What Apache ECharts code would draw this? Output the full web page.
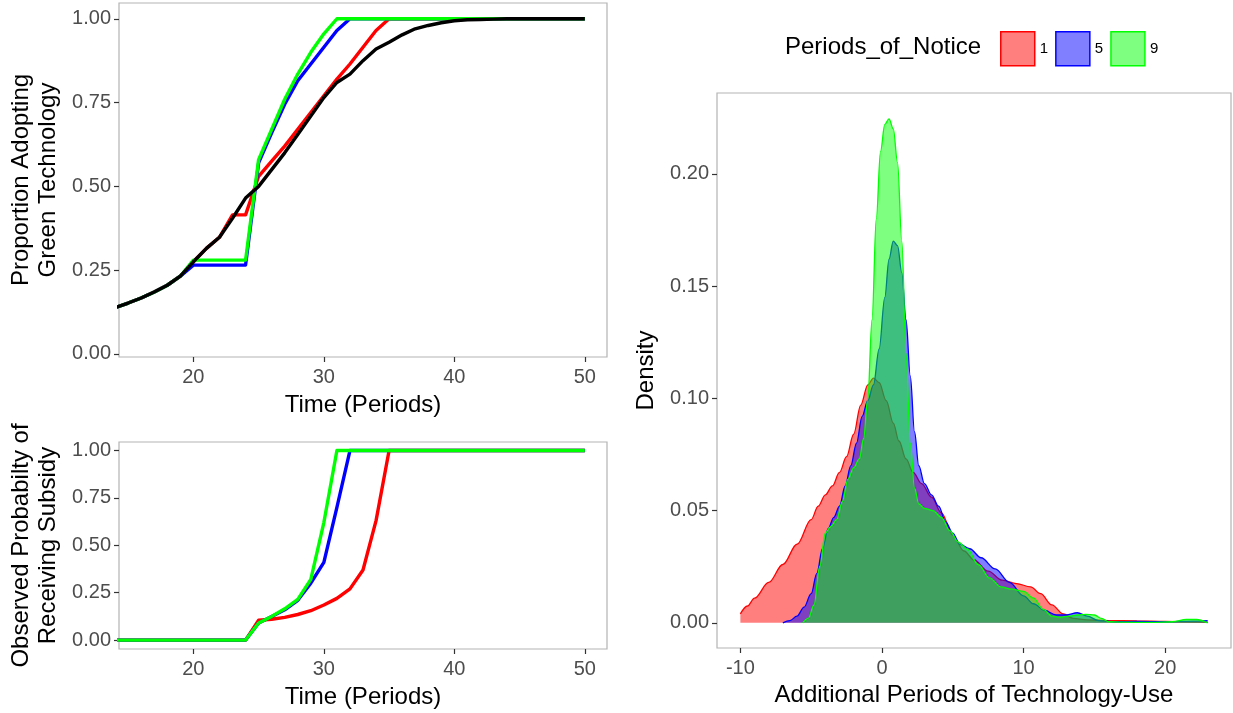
<!DOCTYPE html>
<html>
<head>
<meta charset="utf-8">
<script src="https://cdn.jsdelivr.net/npm/echarts@6/dist/echarts.min.js"></script>
<style>
html,body{margin:0;padding:0;background:#fff;}
#chart{width:1233px;height:713px;}
</style>
</head>
<body>
<div id="chart"></div>
<script>
// ---------- data ----------
const timeX = [14,15,16,17,18,19,20,21,22,23,24,25,26,27,28,29,30,31,32,33,34,35,36,37,38,39,40,41,42,43,44,45,46,47,48,49,50];

const adoptBlack = [0.138,0.152,0.167,0.185,0.205,0.232,0.275,0.315,0.348,0.405,0.465,0.5,0.55,0.6,0.655,0.71,0.765,0.81,0.835,0.875,0.91,0.93,0.952,0.97,0.98,0.988,0.994,0.997,0.998,0.999,1,1,1,1,1,1,1];
const adoptRed   = [0.138,0.152,0.167,0.185,0.205,0.232,0.275,0.315,0.348,0.415,0.415,0.53,0.575,0.62,0.67,0.72,0.77,0.82,0.865,0.915,0.965,1,1,1,1,1,1,1,1,1,1,1,1,1,1,1,1];
const adoptBlue  = [0.138,0.152,0.167,0.185,0.205,0.232,0.265,0.265,0.265,0.265,0.265,0.57,0.66,0.745,0.815,0.865,0.915,0.965,1,1,1,1,1,1,1,1,1,1,1,1,1,1,1,1,1,1,1];
const adoptGreen = [0.138,0.152,0.167,0.185,0.205,0.232,0.28,0.28,0.28,0.28,0.28,0.58,0.67,0.76,0.835,0.9,0.955,1,1,1,1,1,1,1,1,1,1,1,1,1,1,1,1,1,1,1,1];

const subsidyRed   = [0,0,0,0,0,0,0,0,0,0,0,0.105,0.11,0.12,0.135,0.155,0.185,0.22,0.27,0.37,0.63,1,1,1,1,1,1,1,1,1,1,1,1,1,1,1,1];
const subsidyBlue  = [0,0,0,0,0,0,0,0,0,0,0,0.09,0.125,0.16,0.21,0.3,0.41,0.7,1,1,1,1,1,1,1,1,1,1,1,1,1,1,1,1,1,1,1];
const subsidyGreen = [0,0,0,0,0,0,0,0,0,0,0,0.09,0.125,0.165,0.215,0.32,0.62,1,1,1,1,1,1,1,1,1,1,1,1,1,1,1,1,1,1,1,1];

const noticeLevels = ['1','5','9'];

const densX1 = [-10,-9.5,-9,-8,-7,-6,-5,-4.5,-4,-3.5,-3,-2.5,-2,-1.5,-1,-0.6,-0.2,0.3,0.8,1.2,1.7,2.2,2.8,3.5,4.2,5,5.8,6.5,7.5,8.5,9.5,10.5,11.2,12,12.8,13.5,14.5,16,18,20,21.5,23];
const densY1 = [0.004,0.0075,0.011,0.018,0.026,0.035,0.046,0.052,0.057,0.061,0.067,0.074,0.084,0.097,0.106,0.109,0.107,0.099,0.089,0.081,0.073,0.067,0.062,0.056,0.049,0.039,0.032,0.028,0.023,0.019,0.0175,0.016,0.013,0.008,0.004,0.002,0.0013,0.001,0.0009,0.0007,0.0004,0.0002];

const densX5 = [-7,-6.5,-6,-5.5,-5,-4.6,-4.2,-3.8,-3.4,-3,-2.6,-2.2,-1.8,-1.4,-1,-0.6,-0.2,0.2,0.5,0.8,1.1,1.4,1.7,2.0,2.3,2.6,3.0,3.5,4.0,4.5,5.0,5.5,6.2,7,8,9,10,10.7,11.5,12.3,13,13.8,14.5,15.3,16.5,18,20,22,23];
const densY5 = [0,0.001,0.003,0.007,0.013,0.022,0.033,0.042,0.047,0.052,0.061,0.07,0.08,0.092,0.099,0.106,0.122,0.145,0.162,0.17,0.168,0.156,0.135,0.11,0.085,0.07,0.062,0.057,0.052,0.045,0.04,0.035,0.033,0.029,0.024,0.018,0.012,0.0085,0.0055,0.0035,0.0035,0.0045,0.003,0.001,0.0005,0.0006,0.0005,0.0008,0.001];

const densX9 = [-5.6,-5.2,-4.8,-4.4,-4.0,-3.6,-3.2,-2.8,-2.4,-2.0,-1.6,-1.3,-1.0,-0.7,-0.4,-0.1,0.2,0.5,0.8,1.1,1.4,1.7,2.0,2.3,2.6,3.0,3.6,4.2,4.8,5.4,6,6.8,7.6,8.4,9.2,10,10.7,11.4,12,12.6,13.2,13.8,14.4,15,15.5,16,17,19,20.5,21.5,22.2,23];
const densY9 = [0,0.002,0.008,0.025,0.04,0.043,0.046,0.054,0.064,0.069,0.073,0.082,0.1,0.135,0.18,0.21,0.222,0.2245,0.22,0.205,0.17,0.12,0.08,0.06,0.053,0.051,0.05,0.047,0.041,0.036,0.033,0.026,0.02,0.016,0.015,0.014,0.011,0.006,0.003,0.0025,0.003,0.0035,0.0038,0.0035,0.002,0.0005,0.0003,0.0002,0.0005,0.0015,0.0015,0];

const timeTicks = [20,30,40,50];
const probTicks = [0,0.25,0.5,0.75,1];
const extraTicks = [-10,0,10,20];
const densTicks = [0,0.05,0.1,0.15,0.2];

// ---------- helpers ----------
const FONT = "'Liberation Sans', Arial, sans-serif";
const pairs = (xs, ys) => xs.map((x, i) => [x, ys[i]]);

function xAx(gridIndex, min, max, ticks, name, gap) {
  return {
    type: 'value', gridIndex, min, max,
    name, nameLocation: 'middle', nameGap: gap,
    nameTextStyle: {color: '#000', fontSize: 24, fontFamily: FONT},
    splitLine: {show: false},
    axisLine: {show: false, onZero: false},
    axisTick: {show: true, customValues: ticks, length: 5, lineStyle: {color: '#333', width: 1.2}},
    axisLabel: {customValues: ticks, margin: 10, color: '#4D4D4D', fontSize: 20, fontFamily: FONT,
      formatter: v => String(v)}
  };
}
function yAx(gridIndex, min, max, ticks, name, gap) {
  return {
    type: 'value', gridIndex, min, max,
    name, nameLocation: 'middle', nameGap: gap,
    nameTextStyle: {color: '#000', fontSize: 24, fontFamily: FONT, lineHeight: 27},
    splitLine: {show: false},
    axisLine: {show: false, onZero: false},
    axisTick: {show: true, customValues: ticks, length: 5, lineStyle: {color: '#333', width: 1.2}},
    axisLabel: {customValues: ticks, margin: 8, color: '#4D4D4D', fontSize: 20, fontFamily: FONT,
      formatter: v => v.toFixed(2)}
  };
}
function lineSeries(name, xi, yi, xs, ys, color, z) {
  return {
    name, type: 'line', xAxisIndex: xi, yAxisIndex: yi,
    data: pairs(xs, ys), showSymbol: false, symbol: 'none',
    lineStyle: {color, width: 3.4, join: 'round'}, itemStyle: {color},
    z, silent: true, animation: false, clip: true
  };
}
function densSeries(name, xs, ys, color, z) {
  return {
    name, type: 'line', xAxisIndex: 2, yAxisIndex: 2,
    data: pairs(xs, ys), showSymbol: false, symbol: 'none',
    smooth: 0.35, smoothMonotone: 'x',
    lineStyle: {color, width: 1.3},
    itemStyle: {color},
    areaStyle: {color, opacity: 0.5, origin: 'auto'},
    z, silent: true, animation: false
  };
}

const chart = echarts.init(document.getElementById('chart'), null, {renderer: 'canvas'});
const gridBorder = {show: true, borderColor: '#B3B3B3', borderWidth: 1.2, backgroundColor: 'transparent'};

chart.setOption({
  backgroundColor: '#fff',
  animation: false,
  title: {
    text: 'Periods_of_Notice', left: 785, top: 35, padding: 0,
    textStyle: {fontSize: 24, fontWeight: 'normal', color: '#000', fontFamily: FONT}
  },
  legend: {
    data: noticeLevels.map((n, i) => ({
      name: n, icon: 'rect',
      itemStyle: {color: ['rgba(255,0,0,0.5)','rgba(0,0,255,0.5)','rgba(0,255,0,0.5)'][i],
        borderColor: ['#FF0000','#0000FF','#00FF00'][i], borderWidth: 1.5, opacity: 1}
    })),
    left: 1000, top: 31, padding: 0, itemWidth: 34, itemHeight: 34, itemGap: 7,
    selectedMode: false,
    textStyle: {fontSize: 15, color: '#000', fontFamily: FONT}
  },
  grid: [
    Object.assign({left: 119, top: 3, width: 488, height: 354}, gridBorder),
    Object.assign({left: 119, top: 442, width: 488, height: 207}, gridBorder),
    Object.assign({left: 717, top: 93, width: 514, height: 555}, gridBorder)
  ],
  xAxis: [
    xAx(0, 14.3, 51.7, timeTicks, 'Time (Periods)', 36),
    xAx(1, 14.3, 51.7, timeTicks, 'Time (Periods)', 36),
    xAx(2, -11.65, 24.65, extraTicks, 'Additional Periods of Technology-Use', 35)
  ],
  yAxis: [
    yAx(0, -0.009, 1.047, probTicks, 'Proportion Adopting\nGreen Technology', 57),
    yAx(1, -0.047, 1.045, probTicks, 'Observed Probabilty of\nReceiving Subsidy', 57),
    yAx(2, -0.0112, 0.236, densTicks, 'Density', 57)
  ],
  series: [
    lineSeries('adopt 1', 0, 0, timeX, adoptRed, '#FF0000', 2),
    lineSeries('adopt 5', 0, 0, timeX, adoptBlue, '#0000FF', 3),
    lineSeries('adopt 9', 0, 0, timeX, adoptGreen, '#00FF00', 4),
    lineSeries('adopt baseline', 0, 0, timeX, adoptBlack, '#000000', 5),
    lineSeries('subsidy 1', 1, 1, timeX, subsidyRed, '#FF0000', 2),
    lineSeries('subsidy 5', 1, 1, timeX, subsidyBlue, '#0000FF', 3),
    lineSeries('subsidy 9', 1, 1, timeX, subsidyGreen, '#00FF00', 4),
    densSeries(noticeLevels[0], densX1, densY1, '#FF0000', 2),
    densSeries(noticeLevels[1], densX5, densY5, '#0000FF', 3),
    densSeries(noticeLevels[2], densX9, densY9, '#00FF00', 4)
  ]
});
</script>
</body>
</html>
